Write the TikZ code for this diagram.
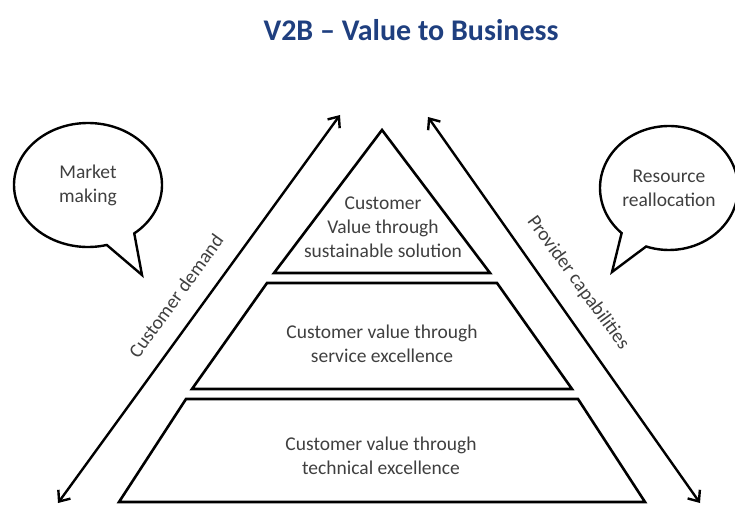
\documentclass[tikz,border=0pt]{standalone}
\usepackage{fontspec}
\setmainfont{Carlito}
\usepackage{xcolor}
\usepackage{tikz}
\usetikzlibrary{arrows.meta,shapes.callouts}
\definecolor{ink}{HTML}{000000}
\definecolor{txt}{HTML}{3F3F3F}
\definecolor{navy}{HTML}{1F3F7F}
\tikzset{
  tier/.style={draw=ink, line width=2.6pt, line join=miter},
  flow/.style={draw=ink, line width=2.4pt, {Straight Barb[length=9pt,width=15pt]}-{Straight Barb[length=9pt,width=15pt]}},
  bubble/.style={ellipse callout, draw=ink, line width=2.4pt, callout pointer arc=24, inner sep=1pt, align=center, text=txt, font=\fontsize{19.5}{24}\selectfont},
  lab/.style={text=txt, align=center, font=\fontsize{19.5}{24}\selectfont},
  head/.style={text=navy, font=\fontsize{30}{36}\selectfont\bfseries},
}

\begin{document}
\begin{tikzpicture}[x=1pt,y=1pt]
  \useasboundingbox (0,0) rectangle (735,504);
  \node[head] (title) at (411,474) {V2B -- Value to Business};
  \coordinate (apex) at (382,374);
  \draw[tier] (apex) -- (490,231) -- (274,231) -- cycle;
  \draw[tier] (267,221) -- (497,221) -- (572,115) -- (192,115) -- cycle;
  \draw[tier] (186,105) -- (578,105) -- (645,2) -- (119,2) -- cycle;
  \node[lab] (top) at (383,277) {Customer\\Value through\\sustainable solution};
  \node[lab] (mid) at (382,160) {Customer value through\\service excellence};
  \node[lab] (base) at (381,48) {Customer value through\\technical excellence};
  \coordinate (dl) at (58,1);
  \coordinate (du) at (340,389);
  \coordinate (pu) at (428,387);
  \coordinate (pl) at (700,1);
  \draw[flow] (dl) -- (du);
  \draw[flow] (pu) -- (pl);
  \node[lab,rotate=54] (demand) at (176,208) {Customer demand};
  \node[lab,rotate=-54] (capab) at (578,221) {Provider capabilities};
  \node[bubble,minimum width=148,minimum height=124,callout absolute pointer={(142,229)}] (market) at (88,319) {Market\\making};
  \node[bubble,minimum width=138,minimum height=124,callout absolute pointer={(612,232)}] (resource) at (669,316) {Resource\\reallocation};
\end{tikzpicture}
\end{document}
